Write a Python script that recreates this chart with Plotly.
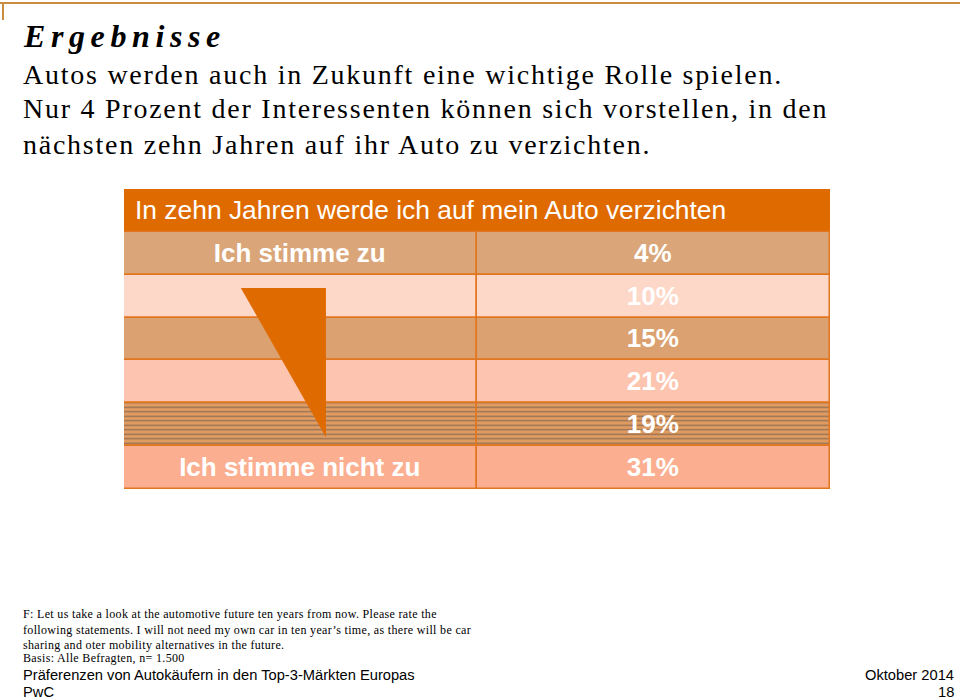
import plotly.graph_objects as go

W, H = 960, 700

# ---- data ----
header_title = "In zehn Jahren werde ich auf mein Auto verzichten"
row_labels = ["Ich stimme zu", "", "", "", "", "Ich stimme nicht zu"]
row_values = [4, 10, 15, 21, 19, 31]
row_colors = ["#DAA679", "#FDD7C7", "#DBA170", "#FDC5AF", "#E19C62", "#FBAF90"]
row_patterns = ["", "", "", "", "-", ""]

title = "Ergebnisse"
subtitle_lines = [
    "Autos werden auch in Zukunft eine wichtige Rolle spielen.",
    "Nur 4 Prozent der Interessenten können sich vorstellen, in den",
    "nächsten zehn Jahren auf ihr Auto zu verzichten.",
]
footnote_lines = [
    "F: Let us take a look at the automotive future ten years from now. Please rate the",
    "following statements. I will not need my own car in ten year’s time, as there will be car",
    "sharing and oter mobility alternatives in the future.",
    "Basis: Alle Befragten, n= 1.500",
]
footer_left = ["Präferenzen von Autokäufern in den Top-3-Märkten Europas", "PwC"]
footer_right = ["Oktober 2014", "18"]

ORANGE = "#DF6A00"
GRID = "#E2761E"
SANS = "Liberation Sans, Arial, sans-serif"
SERIF = "Liberation Serif, Times New Roman, serif"


def px(x):
    return x / W


def py(y):
    return 1 - y / H


rows = list(range(1, len(row_values) + 1))
n = len(rows)

pattern = dict(shape=row_patterns, fgcolor="#D07A30", bgcolor=row_colors,
               size=4.5, solidity=0.3, fillmode="overlay", fgopacity=0.5)

fig = go.Figure()

# header bar
fig.add_trace(go.Bar(
    orientation="h", y=[0], x=[2], base=[0], width=1,
    marker=dict(color=ORANGE, line=dict(color=ORANGE, width=1)),
    hoverinfo="skip",
))

cell_font = dict(family=SANS, size=26, color="white", weight="bold")

# left cells
fig.add_trace(go.Bar(
    orientation="h", y=rows, x=[1] * n, base=[0] * n, width=1,
    marker=dict(color=row_colors, line=dict(color=GRID, width=1.5), pattern=pattern),
    text=row_labels, textposition="inside", insidetextanchor="middle", textangle=0,
    textfont=cell_font, hoverinfo="skip",
))

# right cells
fig.add_trace(go.Bar(
    orientation="h", y=rows, x=[1] * n, base=[1] * n, width=1,
    marker=dict(color=row_colors, line=dict(color=GRID, width=1.5), pattern=pattern),
    text=[f"{v}%" for v in row_values], textposition="inside",
    insidetextanchor="middle", textangle=0,
    textfont=cell_font, hoverinfo="skip",
))

# decorative triangle (scale arrow) in the left column
tri_x = [0.331, 0.572, 0.572, 0.331]
tri_y = [1.81, 1.81, 5.29, 1.81]
fig.add_trace(go.Scatter(
    x=tri_x, y=tri_y, mode="lines", fill="toself", fillcolor=ORANGE,
    line=dict(width=0, color=ORANGE), hoverinfo="skip",
))

ann = []
# header text
ann.append(dict(xref="x", yref="y", x=0, y=0, xanchor="left", yanchor="middle",
                xshift=9, text=header_title, showarrow=False,
                font=dict(family=SANS, size=26.4, color="white")))

# title
ann.append(dict(xref="paper", yref="paper", x=px(21), y=py(36), xanchor="left",
                yanchor="middle", showarrow=False,
                text=f'<span style="letter-spacing:5.6px"><b><i>{title}</i></b></span>',
                font=dict(family=SERIF, size=32, color="black")))
for i, line in enumerate(subtitle_lines):
    ann.append(dict(xref="paper", yref="paper", x=px(21), y=py(74 + 35 * i),
                    xanchor="left", yanchor="middle", showarrow=False,
                    text=f'<span style="letter-spacing:1.75px">{line}</span>',
                    font=dict(family=SERIF, size=28, color="black")))

for i, (line, yy) in enumerate(zip(footnote_lines, [614, 629.5, 644.5, 658])):
    ann.append(dict(xref="paper", yref="paper", x=px(21), y=py(yy),
                    xanchor="left", yanchor="middle", showarrow=False,
                    text=f'<span style="letter-spacing:0.33px">{line}</span>',
                    font=dict(family=SERIF, size=12, color="black")))

for line, yy in zip(footer_left, [675, 692]):
    ann.append(dict(xref="paper", yref="paper", x=px(21), y=py(yy),
                    xanchor="left", yanchor="middle", showarrow=False, text=line,
                    font=dict(family=SANS, size=14.7, color="black")))
for line, yy in zip(footer_right, [675, 692]):
    ann.append(dict(xref="paper", yref="paper", x=px(956), y=py(yy),
                    xanchor="right", yanchor="middle", showarrow=False, text=line,
                    font=dict(family=SANS, size=14.7, color="black")))

shapes = [
    dict(type="line", xref="paper", yref="paper", x0=0, x1=1, y0=py(3), y1=py(3),
         line=dict(color="#C98C40", width=2)),
    dict(type="line", xref="paper", yref="paper", x0=px(3), x1=px(3), y0=py(3), y1=py(20),
         line=dict(color="#C98C40", width=2)),
]

fig.update_layout(
    width=W, height=H, margin=dict(l=0, r=0, t=0, b=0),
    paper_bgcolor="white", plot_bgcolor="white",
    showlegend=False, barmode="overlay", bargap=0,
    xaxis=dict(range=[0, 2], domain=[px(124), px(830)], visible=False, fixedrange=True),
    yaxis=dict(range=[n + 0.5, -0.5], domain=[py(489), py(189)], visible=False, fixedrange=True),
    annotations=ann, shapes=shapes,
)

fig.write_html("out.html", config={"displayModeBar": False},
               post_script="document.body.style.margin='0';document.body.style.overflow='hidden';")
